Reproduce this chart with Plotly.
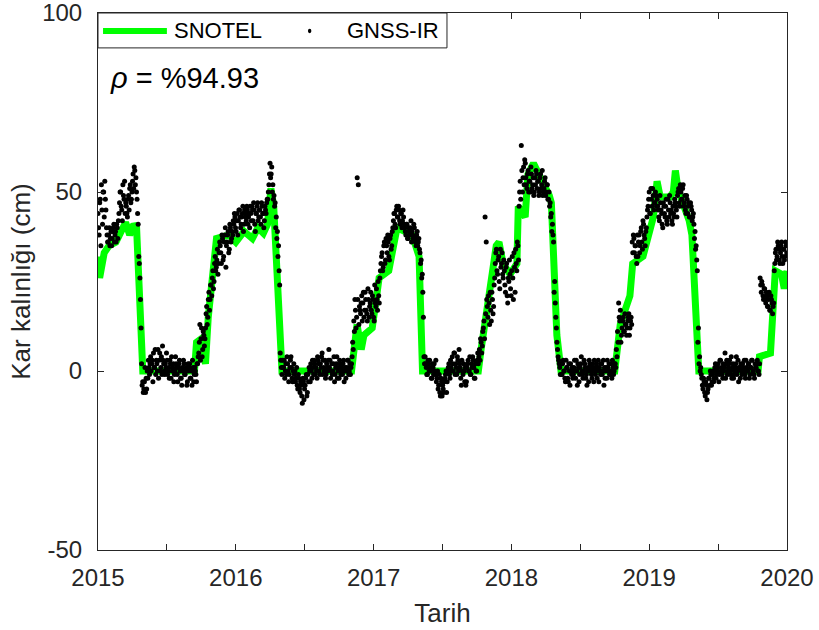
import numpy as np
import plotly.graph_objects as go

# ---------------- data ----------------
# SNOTEL snow depth (cm), read at key dates (decimal year)
snotel_year = [
    2015.000, 2015.012, 2015.045, 2015.080, 2015.130, 2015.175, 2015.200, 2015.230, 2015.260, 2015.280,
    2015.300, 2015.325, 2015.700, 2015.715, 2015.750, 2015.765, 2015.780, 2015.800, 2015.860, 2015.950,
    2016.000, 2016.060, 2016.120, 2016.160, 2016.200, 2016.230, 2016.245, 2016.255, 2016.275, 2016.300,
    2016.335, 2016.840, 2016.870, 2016.880, 2016.910, 2016.930, 2016.990, 2017.040, 2017.110, 2017.170,
    2017.280, 2017.300, 2017.330, 2017.355, 2017.760, 2017.780, 2017.800, 2017.830, 2017.860, 2017.890,
    2017.910, 2017.940, 2017.990, 2018.040, 2018.050, 2018.100, 2018.120, 2018.160, 2018.200, 2018.240,
    2018.275, 2018.290, 2018.330, 2018.360, 2018.750, 2018.790, 2018.860, 2018.880, 2018.955, 2019.030,
    2019.057, 2019.080, 2019.150, 2019.175, 2019.190, 2019.210, 2019.290, 2019.310, 2019.345, 2019.360,
    2019.790, 2019.800, 2019.880, 2019.915, 2019.960, 2019.980, 2020.000,
]
snotel_cm = [
    32, 26, 33, 35, 36, 40, 41.5, 38, 41, 40,
    20, 0, 0, 8, 9, 3, 2, 15, 37, 38,
    36, 39, 37, 40, 38.5, 41, 45, 51, 46, 25,
    0, 0, 10, 13, 6, 10, 12, 26, 28, 40,
    38, 36, 32, 0, 0, 6, 12, 20, 27, 35,
    36, 30, 27, 30, 46, 43, 55, 58, 55, 52,
    49, 47, 10, 0, 0, 13, 21, 30, 32, 43,
    53, 48.6, 48.6, 50, 56, 50.5, 42, 38, 5, 0,
    0, 4, 5, 28, 27, 23, 28,
]

# GNSS-IR snow depth estimates (cm). Pass A: one every 3 days from 2015-01-01;
# pass B: one every 3 days from 2015-01-02 12:00. Listed by season.
gnss_a_winter_2015 = [44, 38, 48, 52, 41, 50, 53, 45, 38, 36, 40, 37, 35, 39, 41, 38, 36, 40, 42,
                      47, 50, 45, 52, 48, 44, 46, 43, 49, 51, 47, 50, 55, 57, 52, 50, 44, 32, 26,
                      12, -4, -6]
gnss_a_summer_2015 = [-3, -6, -5, -2, 1, 2, 0, 3, 5, 1, -1, 2, 6, 3, 0, 4, 7, 2, -1, 1,
                      3, 0, -2, 2, 4, 1, -3, 0, 2, -1, 1, 3, -2, -4, 0, 2, -1, 1, -3, 0,
                      2, -2, -4, 1, -1, 0, -3]
gnss_a_winter_2016 = [2, 5, 13, 9, 4, 11, 7,
                      12, 18, 15, 22, 20, 24,
                      26, 23, 30, 28, 31, 27, 33,
                      35, 30, 37, 32, 38, 29, 36, 39, 34, 40, 37, 38,
                      41, 43, 39, 44, 42, 45, 40, 43, 46, 41, 44, 42, 45, 43, 40,
                      44, 46, 42, 45, 39, 44, 47, 43, 45, 41, 46, 44, 42, 45, 47, 48,
                      52, 58, 55, 50, 48, 46,
                      40, 37, 32, 28, 5, 1]
gnss_a_summer_2016 = [3, 1, -2, 2, 4, 0, -1, 3, 1, -3, 2, 0, -2, -4, -1, -5, -3, -7, -2, -8,
                      -4, -1, -6, -3, 0, 2, -2, 1, 3, -1, 0, 4, 2, -1, 1, 5, 3, 0, -2, 2,
                      1, 6, 3, 0, -1, 2, -3, 1, 4, 0, -2, 2, 1, -1, 3, 0, -2, 1, 3, 0,
                      -1, 2]
gnss_a_winter_2017 = [8, 14, 20, 12,
                      54, 52, 18,
                      16, 21, 19, 15, 22, 17, 14, 20, 18,
                      22, 16, 20, 14, 19, 23, 17, 21, 26,
                      30, 33, 29, 36, 31, 35, 38, 32, 37, 34, 39,
                      42, 44, 40, 46, 43, 45, 41, 44, 42, 43,
                      40, 38, 41, 37, 39, 40, 36, 38, 41, 37, 35, 39, 36, 34,
                      30, 26, 22, 4]
gnss_a_summer_2017 = [4, 1, -1, 2, 3, 0, -2, 1, 2, -1, -3, 0, -4, -6, -2, -7, -5, -3, -1, -6,
                      0, 2, -2, 1, 4, 0, 5, 2, -1, 3, 6, 1, -4, 0, 2, -3, -4, 1, 3, 0,
                      -1, 2, 4, 1, -2, 0, 3]
gnss_a_winter_2018 = [2, 6, 9, 5, 11,
                      14, 43, 36, 18, 21, 13, 17, 22, 16,
                      24, 30, 34, 27, 32, 23, 29, 33, 26,
                      28, 22, 30, 19, 25, 27, 21,
                      32, 20, 29, 34, 28, 35,
                      46, 53, 63, 50, 57, 59,
                      54, 51, 56, 53, 50, 55, 52, 49, 54, 56, 51, 53, 50, 55, 52, 49, 51, 54, 50, 52, 48,
                      46, 43, 39, 38,
                      22, 19, 12, 6, 3, 1]
gnss_a_summer_2018 = [2, -1, 3, 0, -3, 1, -2, 2, -4, 0, 1, -1, 3, -2, 0, 2, -3, 1, 4, -1,
                      0, 2, -2, -4, 1, 3, 0, -1, 2, -3, 1, 0, -2, 3, 1, -1, 2, 0, -4, -2,
                      1, 3, 0, -1, 2, -2, 1, 0]
gnss_a_winter_2019 = [2, 6, 11, 19, 14, 8,
                      12, 15, 11, 13, 10, 14, 16, 12, 15,
                      36, 38, 33, 35, 30,
                      32, 38, 35, 40, 34, 41, 37, 39,
                      43, 46, 50, 44, 48, 51, 45, 47, 49,
                      48, 45, 42, 47, 44, 40, 46, 43, 48, 41, 45, 49, 44, 42, 46, 43, 47, 45,
                      49, 51, 46, 50, 48, 52, 47, 45, 49, 44, 47, 43, 46, 42, 44,
                      37, 34, 31, 8, 2, 0]
gnss_a_summer_2019 = [-1, -4, -2, -6, -3, -8, -5, -2, 0, -4, -1, -3, 1, -2, 0, 2, -1, 3, 1, -2,
                      0, 5, 2, -1, 1, 3, 0, -2, 2, -1, 1, 4, 0, -3, 1, 2, -1, 0, 3, -2,
                      1, 0, 2, -1, 1, 3, 0, -2, 1, 2, 0, -1]
gnss_a_winter_2020 = [26, 22, 24, 20, 23, 19, 21, 18, 22, 17, 20, 16, 19, 30, 34, 32, 35, 31, 33, 36,
                      30, 34, 32, 35]

gnss_b_winter_2015 = [40, 47, 35, 45, 50, 43, 48, 40, 36, 38, 35, 39, 37, 40, 36, 39, 41, 37, 44, 50,
                      46, 42, 49, 53, 47, 44, 48, 45, 52, 48, 53, 51, 56, 54, 48, 41, 30, 20, 2, -3,
                      -5]
gnss_b_summer_2015 = [1, -2, 0, 3, -1, 4, 2, -3, 1, 6, 3, 0, -2, 5, 1, -1, 3, 0, 2, 5,
                      -1, 1, 3, -2, 0, 2, -1, 4, 1, -3, 2, 0, -2, 1, 3, -1, 0, -4, 2, 1,
                      -2, 0, 3, -3, 1, -1, 2]
gnss_b_winter_2016 = [4, 8, 3, 12, 6, 10, 9,
                      16, 13, 20, 17, 24, 21,
                      28, 25, 32, 29, 34, 30, 36,
                      33, 38, 31, 36, 40, 35, 38, 33, 41, 36, 39, 42,
                      44, 40, 42, 38, 45, 43, 41, 44, 39, 45, 43, 46, 41, 44, 46,
                      42, 45, 47, 41, 44, 46, 42, 45, 43, 47, 44, 40, 46, 44, 48, 50,
                      55, 54, 57, 52, 49, 47,
                      43, 39, 35, 24, 3, -1]
gnss_b_summer_2016 = [1, 3, 0, -1, 2, -3, 1, 4, -2, 0, -1, -3, 1, -5, -2, -6, -4, -9, -3, -5,
                      -2, -7, -1, 1, -3, 0, 3, -1, 2, 1, -2, 3, 0, 2, 4, -1, 1, 3, -1, 0,
                      3, 1, -2, 2, 0, 4, -1, 2, -2, 1, 3, -1, 0, 2, -3, 1, 0, 3, -1, 2,
                      1, 4]
gnss_b_winter_2017 = [6, 11, 17, 15,
                      20, 13, 17,
                      19, 14, 22, 17, 20, 16, 23, 15, 19,
                      17, 21, 15, 24, 18, 20, 25, 19, 28,
                      32, 28, 35, 30, 37, 33, 36, 31, 38, 35, 40,
                      44, 41, 45, 43, 46, 42, 44, 40, 45, 41,
                      39, 41, 37, 40, 38, 42, 39, 37, 40, 36, 38, 35, 37, 33,
                      31, 27, 15, 2]
gnss_b_summer_2017 = [2, -1, 3, 0, 1, -2, 2, -1, 0, 3, -2, -5, -1, -7, -3, -4, -6, -2, 0, -3,
                      1, -1, 3, 0, 2, 5, -1, 1, 4, 0, 2, -2, 3, -1, 0, 1, -3, 2, 0, 4,
                      -1, 1, 3, -2, 2, 0, 5]
gnss_b_winter_2018 = [4, 3, 8, 7, 12,
                      9, 16, 20, 15, 19, 22, 14, 20, 18,
                      26, 33, 28, 31, 25, 34, 30, 27, 31,
                      24, 29, 21, 26, 31, 23, 28,
                      26, 33, 22, 30, 36, 31,
                      50, 48, 56, 54, 52, 58,
                      52, 55, 50, 53, 57, 51, 54, 50, 52, 55, 53, 49, 54, 51, 56, 50, 53, 49, 52, 48, 50,
                      47, 44, 41, 36,
                      25, 15, 8, 4, 2, -1]
gnss_b_summer_2018 = [-1, 2, 0, -2, 3, 1, -3, 0, 2, -1, -2, 1, 0, 3, -4, 1, -1, 2, 0, -2,
                      3, 1, -1, 0, -3, 2, 1, -2, 0, 3, -1, 2, 1, -3, 0, 2, -1, 3, 1, 0,
                      -2, 1, 2, -1, 0, 3, -1, 2]
gnss_b_winter_2019 = [1, 4, 8, 15, 17, 10,
                      14, 11, 16, 13, 12, 15, 10, 14, 13,
                      33, 37, 35, 32, 38,
                      36, 33, 39, 36, 42, 38, 35, 40,
                      45, 48, 44, 51, 46, 49, 47, 50, 46,
                      46, 43, 49, 45, 41, 47, 44, 46, 42, 48, 43, 47, 45, 41, 44, 48, 46, 43,
                      50, 47, 52, 48, 51, 46, 49, 44, 48, 46, 43, 47, 45, 43, 41,
                      39, 35, 28, 12, 4, 1]
gnss_b_summer_2019 = [-2, -5, -3, -7, -4, -6, -2, -4, -1, -3, 0, -2, 2, -1, 1, -3, 3, 0, -1, 2,
                      1, -2, 3, 0, 2, -1, 4, 1, -2, 0, 2, -1, 3, 1, -2, 0, 2, 1, -1, 3,
                      0, 2, -2, 1, 3, 0, -1, 2, 1, 3, 0, 2]
gnss_b_winter_2020 = [24, 25, 21, 23, 20, 22, 18, 20, 17, 21, 19, 18, 28, 33, 31, 36, 34, 30, 35, 32,
                      34, 31, 36, 33]

gnss_step_days = 3.0
gnss_b_offset_days = 1.5
rho_text = "<i>ρ</i> = %94.93"
x_ticks = [2015, 2016, 2017, 2018, 2019, 2020]
y_ticks = [-50, 0, 50, 100]
y_ticktext = ["-50", "0", "50", "100"]

gnss_a = (gnss_a_winter_2015 + gnss_a_summer_2015 + gnss_a_winter_2016 + gnss_a_summer_2016 +
          gnss_a_winter_2017 + gnss_a_summer_2017 + gnss_a_winter_2018 + gnss_a_summer_2018 +
          gnss_a_winter_2019 + gnss_a_summer_2019 + gnss_a_winter_2020)
gnss_b = (gnss_b_winter_2015 + gnss_b_summer_2015 + gnss_b_winter_2016 + gnss_b_summer_2016 +
          gnss_b_winter_2017 + gnss_b_summer_2017 + gnss_b_winter_2018 + gnss_b_summer_2018 +
          gnss_b_winter_2019 + gnss_b_summer_2019 + gnss_b_winter_2020)
gnss_a_year = 2015 + np.arange(len(gnss_a)) * gnss_step_days / 365.25
gnss_b_year = 2015 + (np.arange(len(gnss_b)) * gnss_step_days + gnss_b_offset_days) / 365.25
gnss_year = np.concatenate([gnss_a_year, gnss_b_year])
gnss_cm = gnss_a + gnss_b

# ---------------- figure ----------------
GREEN = "#00ff00"
INK = "#262626"
FONT = "Liberation Sans, Arial, Helvetica, sans-serif"

fig = go.Figure()
fig.add_trace(go.Scatter(x=snotel_year, y=snotel_cm, mode="lines", name="SNOTEL",
                         line=dict(color=GREEN, width=7), showlegend=False))
fig.add_trace(go.Scatter(x=gnss_year, y=gnss_cm, mode="markers", name="GNSS-IR",
                         marker=dict(color="black", size=5), showlegend=False))

axis_common = dict(showline=True, linecolor=INK, linewidth=1, mirror="allticks",
                   ticks="inside", ticklen=6, tickcolor=INK, showgrid=False, zeroline=False,
                   ticklabeloverflow="allow", automargin=False,
                   tickfont=dict(family=FONT, size=24, color=INK))
fig.update_xaxes(range=[2015, 2020], tickvals=x_ticks, ticktext=[str(v) for v in x_ticks],
                 ticklabelstandoff=6,
                 minor=dict(dtick=0.5, tick0=2015, ticks="inside", ticklen=6, tickcolor=INK),
                 title=dict(text="Tarih", font=dict(family=FONT, size=26, color=INK), standoff=14),
                 **axis_common)
fig.update_yaxes(range=[-50, 100], tickvals=y_ticks, ticktext=y_ticktext,
                 ticklabelstandoff=10,
                 title=dict(text="Kar kalınlığı (cm)", font=dict(family=FONT, size=26, color=INK), standoff=4),
                 **axis_common)

# manual legend box (paper coordinates)
fig.add_shape(type="rect", xref="paper", yref="paper", x0=0, x1=0.5065, y0=0.935, y1=1,
              line=dict(color=INK, width=1), fillcolor="white", layer="above")
fig.add_shape(type="line", xref="paper", yref="paper", x0=0.0073, x1=0.100, y0=0.9665, y1=0.9665,
              line=dict(color=GREEN, width=6), layer="above")
fig.add_shape(type="circle", xref="paper", yref="paper", x0=0.3047, x1=0.3097, y0=0.9625, y1=0.9705,
              line=dict(color="black", width=0), fillcolor="black", layer="above")
fig.add_annotation(xref="paper", yref="paper", x=0.108, y=0.9665, text="SNOTEL", showarrow=False,
                   xanchor="left", yanchor="middle", font=dict(family=FONT, size=22, color="black"))
fig.add_annotation(xref="paper", yref="paper", x=0.358, y=0.9665, text="GNSS-IR", showarrow=False,
                   xanchor="left", yanchor="middle", font=dict(family=FONT, size=22, color="black"))
fig.add_annotation(xref="paper", yref="paper", x=0.015, y=0.879, text=rho_text, showarrow=False,
                   xanchor="left", yanchor="middle", font=dict(family=FONT, size=29, color="black"))

fig.update_layout(width=819, height=630, margin=dict(l=98, r=32, t=13, b=80),
                  plot_bgcolor="white", paper_bgcolor="white", showlegend=False)

fig.write_html("out.html")
